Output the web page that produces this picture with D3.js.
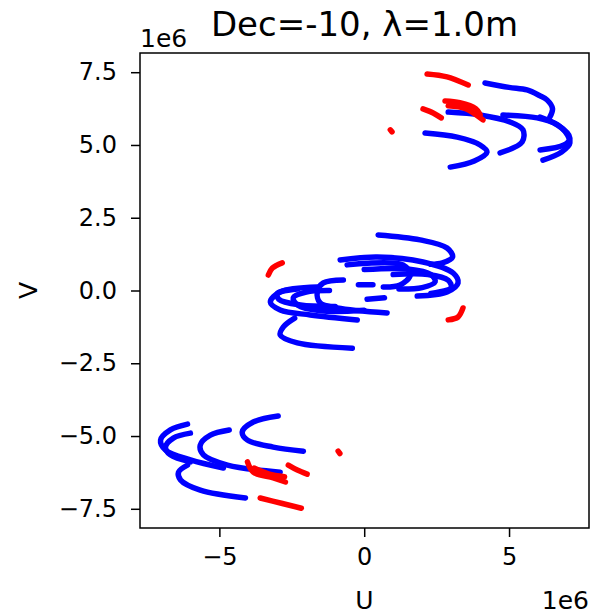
<!DOCTYPE html>
<html>
<head>
<meta charset="utf-8">
<script src="https://cdn.jsdelivr.net/npm/d3@7"></script>
<style>
  body { margin: 0; background: #fff; }
  text { font-family: "DejaVu Sans", sans-serif; fill: #000; }
</style>
</head>
<body>
<div id="plot"></div>
<script>
// uv tracks, in units of 1e6
const blueTracks = [
  // upper right group
  [[4.17,7.13],[5.0,6.98],[5.62,6.89],[6.05,6.70],[6.31,6.55],[6.5,6.25],[6.41,5.96]],
  [[2.90,6.13],[4.0,6.03],[5.03,5.79],[5.48,5.52],[5.45,5.10],[4.69,4.73]],
  [[2.10,5.41],[3.21,5.27],[4.0,5.0],[4.24,4.76],[3.8,4.45],[2.97,4.24]],
  [[4.79,6.03],[5.97,5.93],[6.66,5.69],[7.10,5.24],[6.9,5.0],[6.07,4.83]],
  [[6.07,5.96],[6.83,5.58],[7.10,5.07],[6.8,4.75],[6.17,4.48]],
  // lower left group
  [[-6.10,-4.59],[-6.69,-4.79],[-7.03,-5.14],[-6.86,-5.48],[-6.0,-5.82],[-4.86,-6.10]],
  [[-6.0,-4.90],[-6.59,-5.07],[-6.86,-5.38],[-6.69,-5.65],[-6.0,-5.89]],
  [[-4.66,-4.79],[-5.31,-4.97],[-5.66,-5.31],[-5.55,-5.65],[-4.72,-6.0],[-2.90,-6.24]],
  [[-2.97,-4.31],[-3.83,-4.52],[-4.21,-4.86],[-4.03,-5.14],[-3.14,-5.38],[-2.10,-5.52]],
  [[-6.10,-6.0],[-6.41,-6.24],[-6.34,-6.51],[-5.66,-6.86],[-4.10,-7.13]],
  // centre
  [[0.48,1.91],[1.93,1.74],[2.86,1.46],[3.05,1.15],[2.7,0.95],[2.3,0.9]],
  [[-0.83,1.05],[0.45,1.15],[2.03,0.98],[3.07,0.60],[3.24,0.26],[2.86,-0.05],[1.83,-0.19]],
  [[-0.59,0.88],[1.34,0.88],[1.59,0.53],[1.24,0.19],[0.66,0.12]],
  [[0.0,0.72],[1.5,0.74],[2.3,0.55],[2.45,0.3],[2.0,0.1],[1.2,0.05]],
  [[1.0,0.55],[2.2,0.55],[2.9,0.35],[3.0,0.1],[2.3,-0.1]],
  [[-1.62,0.12],[-2.90,-0.05],[-3.24,-0.40],[-2.90,-0.67],[-1.86,-0.84],[-0.24,-1.01]],
  [[-0.72,0.36],[-1.41,0.26],[-1.62,-0.05],[-1.52,-0.43],[-0.93,-0.60],[0.79,-0.77]],
  [[0.0,-0.68],[-1.5,-0.7],[-2.3,-0.5],[-2.45,-0.25],[-2.0,-0.05],[-1.2,0.0]],
  [[-1.0,-0.55],[-2.2,-0.5],[-2.95,-0.3],[-3.0,-0.1],[-2.3,0.05]],
  [[-2.4,-0.95],[-2.79,-1.25],[-2.90,-1.53],[-2.31,-1.80],[-0.41,-1.98]],
  [[-0.2,0.2],[0.3,0.2]],
  [[0.1,-0.3],[0.7,-0.25]]
];

const redTracks = [
  [[2.17,7.44],[2.86,7.34],[3.59,7.06]],
  [[2.79,6.51],[3.3,6.45],[3.85,6.25],[4.0,6.05]],
  [[2.9,6.35],[3.5,6.25],[4.1,5.86]],
  [[2.03,6.24],[2.38,6.10],[2.66,5.93]],
  [[0.90,5.52],[0.96,5.45]],
  [[-4.03,-5.89],[-3.83,-6.24],[-3.14,-6.44],[-2.72,-6.58]],
  [[-3.8,-6.1],[-3.3,-6.3],[-2.75,-6.4]],
  [[-2.62,-6.0],[-2.31,-6.17],[-1.97,-6.31]],
  [[-2.17,-7.48],[-2.86,-7.31],[-3.59,-7.13]],
  [[-0.90,-5.52],[-0.84,-5.6]],
  [[-3.31,0.53],[-3.17,0.77],[-2.83,0.95]],
  [[2.90,-1.01],[3.24,-0.91],[3.41,-0.60]]
];

const xTicks = [-5, 0, 5];
const yTicks = [-7.5, -5.0, -2.5, 0.0, 2.5, 5.0, 7.5];
const uRange = [-7.74, 7.76];
const vRange = [-8.16, 8.16];

const W = 593, H = 614;
const margin = { left: 140, right: 4, top: 53, bottom: 86 };
const plotW = W - margin.left - margin.right;
const plotH = H - margin.top - margin.bottom;

const svg = d3.select('#plot').append('svg')
  .attr('width', W)
  .attr('height', H);

const x = d3.scaleLinear().domain(uRange).range([0, plotW]);
const y = d3.scaleLinear().domain(vRange).range([plotH, 0]);

const g = svg.append('g')
  .attr('transform', `translate(${margin.left},${margin.top})`);

g.append('clipPath').attr('id', 'clip')
  .append('rect').attr('width', plotW).attr('height', plotH);

const line = d3.line()
  .x(d => x(d[0]))
  .y(d => y(d[1]))
  .curve(d3.curveCatmullRom.alpha(0.5));

const marks = g.append('g').attr('clip-path', 'url(#clip)');

function drawTracks(data, cls, color) {
  marks.selectAll('path.' + cls)
    .data(data)
    .enter().append('path')
    .attr('class', cls)
    .attr('d', line)
    .attr('fill', 'none')
    .attr('stroke', color)
    .attr('stroke-width', 5.5)
    .attr('stroke-linecap', 'round')
    .attr('stroke-linejoin', 'round');
}

drawTracks(blueTracks, 'blue', '#0000ff');
drawTracks(redTracks, 'red', '#ff0000');

const minus = s => s.replace('-', '\u2212');

const xAxis = g.append('g')
  .attr('transform', `translate(0,${plotH})`)
  .call(d3.axisBottom(x).tickValues(xTicks).tickSize(9).tickPadding(11)
    .tickFormat(d => minus(d3.format('d')(d))));

const yAxis = g.append('g')
  .call(d3.axisLeft(y).tickValues(yTicks).tickSize(9).tickPadding(14)
    .tickFormat(d => minus(d3.format('.1f')(d))));

[xAxis, yAxis].forEach(a => {
  a.select('.domain').remove();
  a.selectAll('.tick line').attr('stroke', '#000').attr('stroke-width', 1.5);
  a.selectAll('.tick text').style('font-size', '24px').attr('fill', '#000');
});

g.append('rect')
  .attr('width', plotW)
  .attr('height', plotH)
  .attr('fill', 'none')
  .attr('stroke', '#000')
  .attr('stroke-width', 1.5);

svg.append('text')
  .attr('x', margin.left + plotW / 2)
  .attr('y', 36)
  .attr('text-anchor', 'middle')
  .style('font-size', '34px')
  .text('Dec=-10, \u03bb=1.0m');

svg.append('text')
  .attr('x', margin.left)
  .attr('y', 47)
  .style('font-size', '25px')
  .text('1e6');

svg.append('text')
  .attr('x', W - 4)
  .attr('y', 609)
  .attr('text-anchor', 'end')
  .style('font-size', '25px')
  .text('1e6');

svg.append('text')
  .attr('x', margin.left + plotW / 2)
  .attr('y', 609)
  .attr('text-anchor', 'middle')
  .style('font-size', '25px')
  .text('U');

svg.append('text')
  .attr('transform', `translate(37,${margin.top + plotH / 2}) rotate(-90)`)
  .attr('text-anchor', 'middle')
  .style('font-size', '25px')
  .text('V');
</script>
</body>
</html>
